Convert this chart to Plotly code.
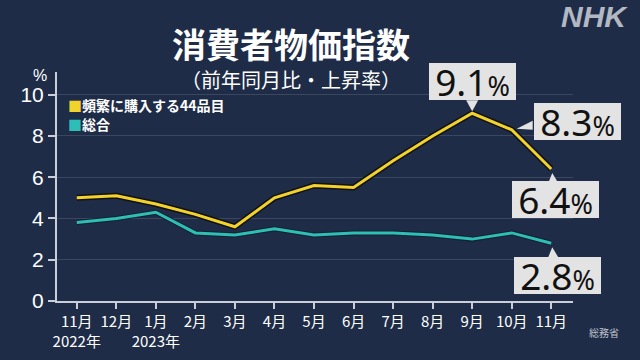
import plotly.graph_objects as go

months = ["11月", "12月", "1月", "2月", "3月", "4月", "5月", "6月", "7月", "8月", "9月", "10月", "11月"]
tick_labels = ["11月<br>2022年", "12月", "1月<br>2023年", "2月", "3月", "4月", "5月",
               "6月", "7月", "8月", "9月", "10月", "11月"]
frequent_44 = [5.0, 5.1, 4.7, 4.2, 3.6, 5.0, 5.6, 5.5, 6.8, 8.0, 9.1, 8.3, 6.4]
overall = [3.8, 4.0, 4.3, 3.3, 3.2, 3.5, 3.2, 3.3, 3.3, 3.2, 3.0, 3.3, 2.8]
series_names = ["頻繁に購入する44品目", "総合"]
y_ticks = [0, 2, 4, 6, 8, 10]

BG = "#1e2c47"
YELLOW = "#f2d22c"
TEAL = "#2dbfb6"
BOX = "#e3e3e3"
JP = "Noto Sans CJK JP"

x = list(range(len(months)))

fig = go.Figure()
fig.add_trace(go.Scatter(x=x, y=frequent_44, mode="lines", line=dict(color="#111111", width=6),
                         showlegend=False, hoverinfo="skip"))
fig.add_trace(go.Scatter(x=x, y=frequent_44, mode="lines", line=dict(color=YELLOW, width=3),
                         name=series_names[0], showlegend=False))
fig.add_trace(go.Scatter(x=x, y=overall, mode="lines", line=dict(color="#14202f", width=5),
                         showlegend=False, hoverinfo="skip"))
fig.add_trace(go.Scatter(x=x, y=overall, mode="lines", line=dict(color=TEAL, width=3),
                         name=series_names[1], showlegend=False))

callouts = [
    (frequent_44, 10, 0, -32, "M -6 13 L 0 2 L 6 13 Z"),
    (frequent_44, 11, 66, -8, "M 21 0 L 5 1 L 21 9 Z"),
    (frequent_44, 12, 4, 31, "M -3 -14 L 1 -4 L 7 -14 Z"),
    (overall, 12, 6, 32, "M -3 -14 L 1 -4 L 7 -14 Z"),
]
for series, i, ax, ay, path in callouts:
    v = series[i]
    fig.add_annotation(x=x[i], y=v, xref="x", yref="y", ax=ax, ay=ay, axref="pixel", ayref="pixel",
                       showarrow=True, arrowcolor="rgba(0,0,0,0)", arrowwidth=0.1, arrowhead=0,
                       text=f"{v:.1f}<span style='font-size:27px'>%</span>",
                       font=dict(family="Noto Sans", size=37, color="#111111"),
                       bgcolor=BOX, borderpad=0, borderwidth=0, height=37, width=87,
                       xanchor="center", yanchor="middle")
    fig.add_shape(type="path", xref="x", yref="y", xsizemode="pixel", ysizemode="pixel",
                  xanchor=x[i], yanchor=v, path=path, fillcolor=BOX, line=dict(width=0))

fig.update_layout(
    width=640, height=360, paper_bgcolor=BG, plot_bgcolor=BG,
    margin=dict(l=57, r=67, t=72, b=59, autoexpand=False),
    showlegend=False,
    xaxis=dict(range=[-0.5, 12.55], tickvals=x, ticktext=tick_labels, showgrid=False, zeroline=False,
               showline=True, linecolor="#c9ced8", linewidth=2, ticks="outside", ticklen=6,
               tickcolor="#c9ced8", tickwidth=2, tickangle=0, automargin=False,
               tickfont=dict(family=JP, size=15, color="white")),
    yaxis=dict(range=[0, 11.1], tickvals=y_ticks, showgrid=True, gridcolor="rgba(255,255,255,0.13)",
               gridwidth=1, zeroline=False, showline=True, linecolor="#c9ced8", linewidth=2,
               ticks="outside", ticklen=7, tickcolor="#c9ced8", tickwidth=2, automargin=False,
               tickfont=dict(family="Liberation Sans", size=21, color="white")),
)


def px(xp):
    return (xp - 57) / 516


def py(yp):
    return (301 - yp) / 229


# legend (colour swatch + name)
for name, col, yp in zip(series_names, [YELLOW, TEAL], [105, 124]):
    fig.add_annotation(text=f"<span style='color:{col}'>■</span><b>{name}</b>", xref="paper", yref="paper",
                       x=px(66), y=py(yp), showarrow=False, xanchor="left", yanchor="middle",
                       font=dict(family=JP, size=14, color="white"))

# title + subtitle as one two-line text block
fig.add_annotation(text="<b><span style='font-size:34px'>消費者物価指数</span></b><br>"
                        "<span style='font-size:20px'>（前年同月比・上昇率）</span>",
                   xref="paper", yref="paper", x=px(291), y=py(57), showarrow=False,
                   font=dict(family=JP, size=23, color="white"), xanchor="center", yanchor="middle")
fig.add_annotation(text="%", xref="paper", yref="paper", x=px(40), y=py(75),
                   showarrow=False, font=dict(family="Liberation Sans", size=16, color="white"),
                   xanchor="center", yanchor="middle")
fig.add_annotation(text="<b><i>NHK</i></b>", xref="paper", yref="paper", x=px(594),
                   y=py(16), showarrow=False,
                   font=dict(family="Liberation Sans", size=30, color="#b3b8c2"),
                   xanchor="center", yanchor="middle")
fig.add_annotation(text="総務省", xref="paper", yref="paper", x=px(604), y=py(332),
                   showarrow=False, font=dict(family=JP, size=10, color="#c0c4cc"),
                   xanchor="center", yanchor="middle")

fig.write_html("out.html", config={"displayModeBar": False},
               post_script="document.body.style.margin='0';")
